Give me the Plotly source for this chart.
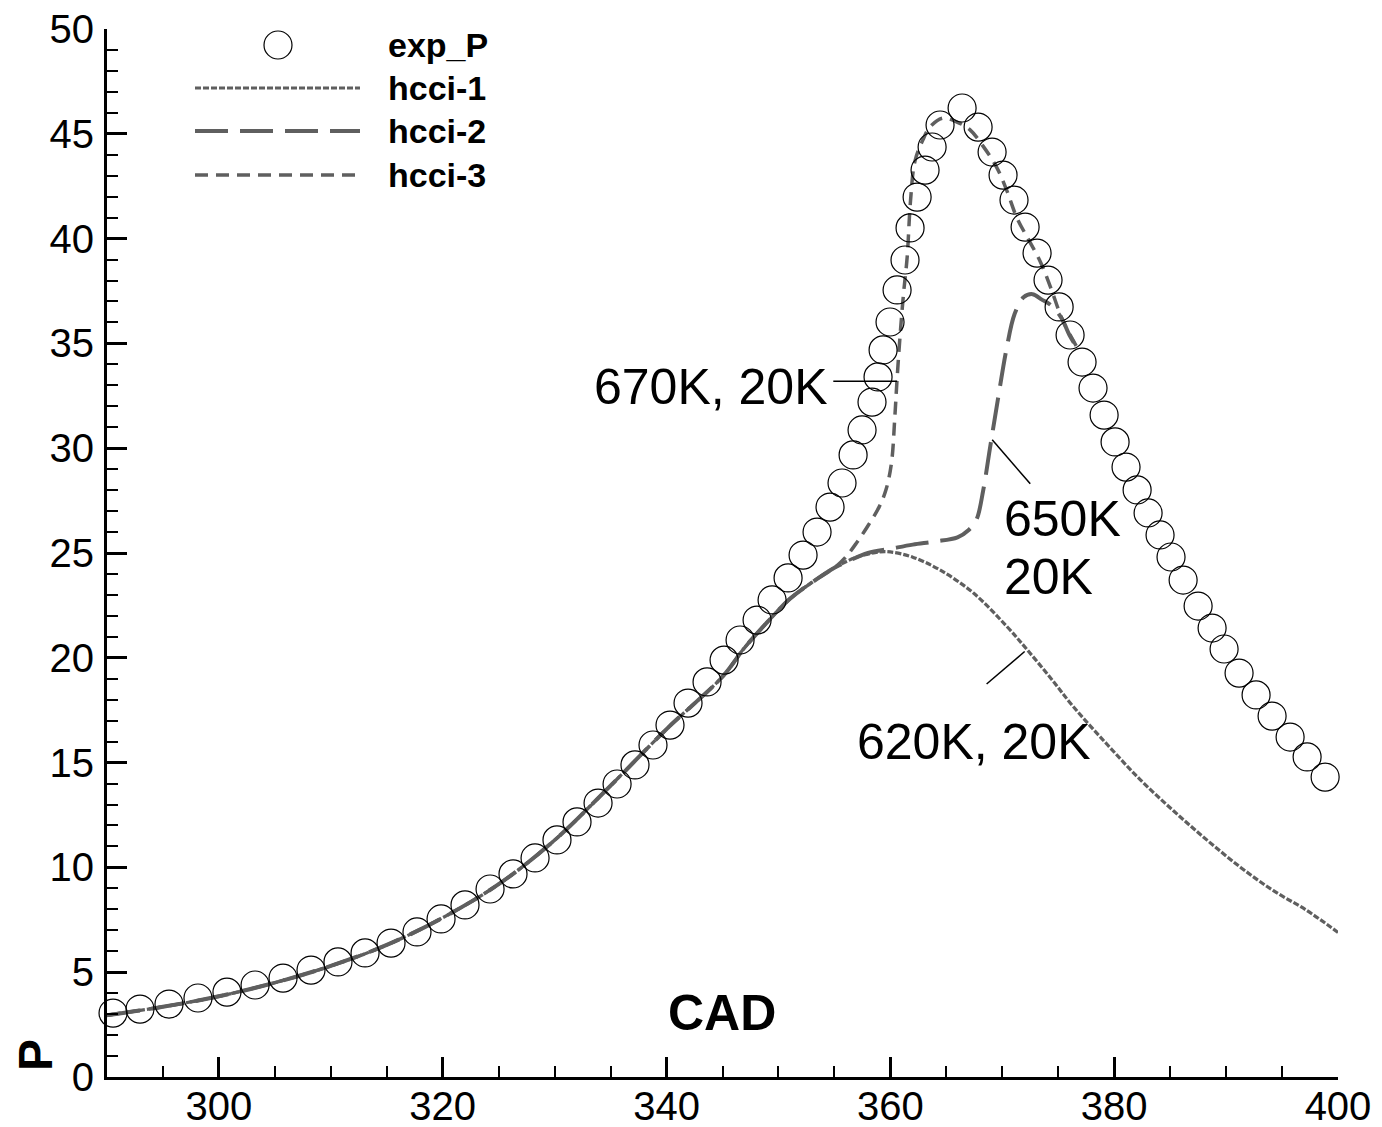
import plotly.graph_objects as go

FONT = "Liberation Sans, Arial, sans-serif"
LINE_GRAY = "#5f5f5f"

# ---------------- data ----------------
exp_cad = [290.54, 292.95, 295.54, 298.13, 300.72, 303.23, 305.73, 308.23, 310.64, 313.06,
           315.38, 317.70, 319.85, 321.99, 324.23, 326.28, 328.25, 330.21, 332.00, 333.88,
           335.58, 337.18, 338.79, 340.31, 341.92, 343.62, 345.14, 346.57, 348.09, 349.43,
           350.86, 352.20, 353.45, 354.61, 355.68, 356.67, 357.47, 358.36, 358.90, 359.35,
           359.97, 360.60, 361.31, 361.76, 362.39, 363.10, 363.73, 364.44, 366.41, 367.84,
           369.09, 370.07, 371.05, 372.04, 373.11, 374.09, 375.08, 376.06, 377.13, 378.11,
           379.10, 380.08, 381.06, 382.05, 383.03, 384.10, 385.08, 386.16, 387.50, 388.75,
           389.82, 391.16, 392.68, 394.11, 395.72, 397.24, 398.85]
exp_p = [3.05, 3.24, 3.48, 3.77, 4.05, 4.39, 4.72, 5.10, 5.49, 5.92,
         6.39, 6.92, 7.54, 8.21, 8.97, 9.69, 10.45, 11.31, 12.17, 13.07,
         13.98, 14.89, 15.84, 16.79, 17.84, 18.85, 19.89, 20.85, 21.80, 22.76,
         23.81, 24.90, 26.00, 27.19, 28.34, 29.68, 30.87, 32.20, 33.40, 34.69,
         36.02, 37.55, 38.98, 40.51, 41.98, 43.27, 44.37, 45.42, 46.23, 45.32,
         44.13, 43.03, 41.84, 40.55, 39.31, 38.02, 36.74, 35.40, 34.11, 32.87,
         31.58, 30.30, 29.10, 28.01, 26.91, 25.86, 24.81, 23.71, 22.47, 21.42,
         20.42, 19.27, 18.23, 17.22, 16.22, 15.27, 14.31]

hcci1_cad = [290, 295, 300, 305, 310, 315, 320, 325, 330, 335, 340, 345, 347, 349, 351, 353,
             355, 357, 359, 360, 362, 364.4, 367.4, 370.4, 372.2, 374.3, 376.3, 379.4, 382.3,
             385.3, 388.3, 391.3, 394.2, 397.2, 400]
hcci1_p = [2.95, 3.35, 3.85, 4.5, 5.3, 6.3, 7.6, 9.2, 11.3, 13.9, 16.6, 19.1, 20.5, 21.7, 22.8, 23.6,
           24.3, 24.8, 25.05, 25.05, 24.8, 24.2, 23.1, 21.5, 20.4, 19.05, 17.7, 15.85, 14.2,
           12.7, 11.3, 10.0, 8.9, 7.95, 6.9]

hcci2_cad = [290, 295, 300, 305, 310, 315, 320, 325, 330, 335, 340, 345, 347, 349, 351, 353,
             355, 356, 358, 360, 362, 364, 366, 367, 367.7, 368.3, 368.9, 369.6, 370.4,
             371.1, 371.9, 372.7, 373.5, 374.4, 375.3, 376.0, 376.8]
hcci2_p = [2.95, 3.35, 3.85, 4.5, 5.3, 6.3, 7.6, 9.2, 11.3, 13.9, 16.6, 19.1, 20.5, 21.7, 22.8, 23.6,
           24.3, 24.55, 25.0, 25.2, 25.4, 25.55, 25.75, 26.1, 26.6, 28.0, 30.0, 32.3, 34.8,
           36.4, 37.2, 37.35, 37.1, 36.8, 36.2, 35.4, 34.7]

hcci3_cad = [290, 295, 300, 305, 310, 315, 320, 325, 330, 335, 340, 345, 347, 349, 351, 353,
             355, 356, 357, 358, 359, 359.6, 360.1, 360.4, 360.6, 360.9, 361.2, 361.5, 361.8,
             362.2, 362.9, 363.5, 364.7, 366.0, 367.1, 368.3, 369.5, 370.4, 371.3, 372.4,
             373.4, 374.3, 375.4, 376.7]
hcci3_p = [2.95, 3.35, 3.85, 4.5, 5.3, 6.3, 7.6, 9.2, 11.3, 13.9, 16.6, 19.1, 20.5, 21.7, 22.8, 23.6,
           24.3, 24.8, 25.5, 26.3, 27.2, 28.0, 29.3, 31.5, 33.3, 35.6, 37.5, 39.1, 41.8,
           43.7, 44.7, 45.3, 45.75, 45.55, 45.2, 44.4, 43.4, 42.3, 41.0, 39.9,
           38.9, 37.7, 36.1, 34.8]

series_names = ["exp_P", "hcci-1", "hcci-2", "hcci-3"]
x_ticks = [300, 320, 340, 360, 380, 400]
y_ticks = [0, 5, 10, 15, 20, 25, 30, 35, 40, 45, 50]

DASH1 = "6px,2px"
DASH2 = "33px,12px"
DASH3 = "13px,8px"

fig = go.Figure()
fig.add_trace(go.Scatter(x=hcci1_cad, y=hcci1_p, mode="lines", name=series_names[1],
                         line=dict(color=LINE_GRAY, width=3.2, dash=DASH1), line_shape="spline"))
fig.add_trace(go.Scatter(x=hcci2_cad, y=hcci2_p, mode="lines", name=series_names[2],
                         line=dict(color=LINE_GRAY, width=4, dash=DASH2), line_shape="spline"))
fig.add_trace(go.Scatter(x=hcci3_cad, y=hcci3_p, mode="lines", name=series_names[3],
                         line=dict(color=LINE_GRAY, width=3.5, dash=DASH3), line_shape="spline"))
fig.add_trace(go.Scatter(x=exp_cad, y=exp_p, mode="markers", name=series_names[0],
                         marker=dict(symbol="circle-open", size=28, color="black",
                                     line=dict(width=1.2, color="black")),
                         cliponaxis=False))

# ---------------- manual legend (paper coords; screen pixels of plot area) ----------------
L = 107; R = 1338; T = 29; B = 1077
OFF = 8  # page body margin in the browser
def px(xp):
    return (xp - L) / (R - L)
def py(yp):
    return (B - yp) / (B - T)

shapes = []
annotations = []
leg_rows = [45, 88, 131, 175]
shapes.append(dict(type="circle", xref="paper", yref="paper", xsizemode="pixel", ysizemode="pixel",
                   xanchor=px(278), yanchor=py(leg_rows[0]), x0=-14, x1=14, y0=-14, y1=14,
                   line=dict(color="black", width=1.2)))
for row, dash, w in zip(leg_rows[1:], [DASH1, DASH2, DASH3], [3.2, 4, 3.5]):
    shapes.append(dict(type="line", xref="paper", yref="paper", x0=px(195), x1=px(360),
                       y0=py(row), y1=py(row), line=dict(color=LINE_GRAY, width=w, dash=dash)))
for row, name in zip(leg_rows, series_names):
    annotations.append(dict(xref="paper", yref="paper", x=px(386), y=py(row), text="<b>%s</b>" % name,
                            showarrow=False, xanchor="left", yanchor="middle",
                            font=dict(family=FONT, size=34, color="black")))

# ---------------- curve labels ----------------
ann_font = dict(family=FONT, size=50, color="black")
annotations += [
    dict(x=354.6, y=32.9, text="670K, 20K", showarrow=False, xanchor="right", yanchor="middle", font=ann_font),
    dict(x=370.0, y=26.6, text="650K", showarrow=False, xanchor="left", yanchor="middle", font=ann_font),
    dict(x=370.0, y=23.85, text="20K", showarrow=False, xanchor="left", yanchor="middle", font=ann_font),
    dict(x=356.8, y=16.0, text="620K, 20K", showarrow=False, xanchor="left", yanchor="middle", font=ann_font),
    dict(xref="paper", yref="paper", x=px(722), y=py(1013), text="<b>CAD</b>", showarrow=False,
         xanchor="center", yanchor="middle", font=dict(family=FONT, size=50, color="black")),
    dict(xref="paper", yref="paper", x=px(35), y=py(1055), text="<b>P</b>", showarrow=False,
         textangle=-90, xanchor="center", yanchor="middle", font=dict(family=FONT, size=48, color="black")),
]
for (x0, y0, x1, y1) in [(354.9, 33.2, 360.6, 33.2), (369.1, 30.4, 372.5, 28.3), (368.6, 18.75, 372.0, 20.3)]:
    shapes.append(dict(type="line", xref="x", yref="y", x0=x0, y0=y0, x1=x1, y1=y1,
                       line=dict(color="black", width=1.5)))

W = 1382 - OFF
H = 1127 - OFF
fig.update_layout(
    width=W, height=H,
    margin=dict(l=L - OFF, r=1382 - R, t=T - OFF, b=1127 - B, pad=0, autoexpand=False),
    paper_bgcolor="white", plot_bgcolor="white",
    showlegend=False,
    shapes=shapes, annotations=annotations,
    font=dict(family=FONT, color="black"),
)
fig.update_xaxes(range=[290, 400], tickvals=x_ticks, ticktext=[str(v) for v in x_ticks],
                 automargin=False, ticklabeloverflow="allow",
                 showgrid=False, zeroline=False, showline=True, linecolor="black", linewidth=3,
                 ticks="inside", ticklen=20, tickwidth=3, tickcolor="black",
                 minor=dict(ticks="inside", ticklen=11, tickwidth=2, tickcolor="black", dtick=5, tick0=290),
                 tickfont=dict(family=FONT, size=40, color="black"), ticklabelstandoff=-8)
fig.update_yaxes(range=[0, 50], tickvals=y_ticks, ticktext=[str(v) for v in y_ticks],
                 automargin=False, ticklabeloverflow="allow",
                 showgrid=False, zeroline=False, showline=True, linecolor="black", linewidth=3,
                 ticks="inside", ticklen=20, tickwidth=3, tickcolor="black",
                 minor=dict(ticks="inside", ticklen=11, tickwidth=2, tickcolor="black", dtick=1, tick0=0),
                 tickfont=dict(family=FONT, size=40, color="black"), ticklabelstandoff=2)

fig.write_html("out.html")
